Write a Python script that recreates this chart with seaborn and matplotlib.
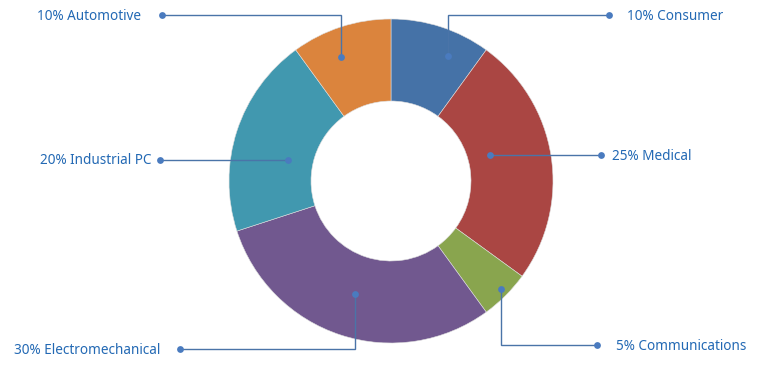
import matplotlib
matplotlib.use("Agg")
import matplotlib.pyplot as plt
import seaborn as sns

categories = ["Consumer", "Medical", "Communications", "Electromechanical", "Industrial PC", "Automotive"]
shares = [10, 25, 5, 30, 20, 10]
colors = ["#4572A7", "#AA4643", "#89A54E", "#71588F", "#4198AF", "#DB843D"]

# layout (pixel coordinates, origin top-left)
W, H = 760, 366
CX, CY, R_OUT, R_IN = 391, 181, 162, 80
anchors = [(448, 56), (490, 155), (501, 289), (355, 294), (288, 160), (341, 57)]
label_dots = [(609, 15), (601, 155), (597, 345), (180, 349), (160, 160), (162, 15)]
routes = ["hv", "h", "vh", "vh", "h", "hv"]
text_x = [627, 612, 616, 160, 151, 141]
text_ha = ["left", "left", "left", "right", "right", "right"]

sns.set_theme(style="white")
plt.rcParams["font.family"] = ["Noto Sans", "DejaVu Sans"]

fig = plt.figure(figsize=(W / 100, H / 100), dpi=100)
ax = fig.add_axes([0, 0, 1, 1])
ax.set_xlim(0, W)
ax.set_ylim(0, H)
ax.set_aspect("equal")
ax.axis("off")

def fy(y):
    return H - y

ax.pie(shares, colors=colors, startangle=90, counterclock=False,
       center=(CX, fy(CY)), radius=R_OUT,
       wedgeprops=dict(width=R_OUT - R_IN, linewidth=0.4, edgecolor="#dddddd"))
ax.set_xlim(0, W)
ax.set_ylim(0, H)

line_c = "#4a74a8"
dot_c = "#4a7bbf"
text_c = "#2369b4"
for cat, val, (ax_, ay), (lx, ly), rt, tx, ha in zip(categories, shares, anchors, label_dots, routes, text_x, text_ha):
    if rt == "hv":
        xs, ys = [lx, ax_, ax_], [ly, ly, ay]
    elif rt == "vh":
        xs, ys = [ax_, ax_, lx], [ay, ly, ly]
    else:
        xs, ys = [ax_, lx], [ay, ay]
        ly = ay
    ax.plot(xs, [fy(v) for v in ys], color=line_c, lw=1.0, solid_joinstyle="miter", zorder=3)
    ax.scatter([ax_, lx], [fy(ay), fy(ly)], s=24, color=dot_c, zorder=4, linewidths=0)
    ax.text(tx, fy(ly + 1), f"{val}% {cat}", ha=ha, va="center", fontsize=9.75, color=text_c)

fig.savefig("out.png", dpi=100)
